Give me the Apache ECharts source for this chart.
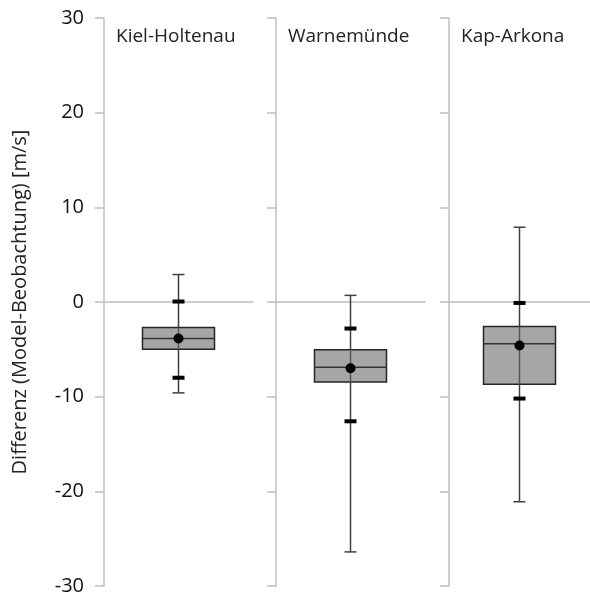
<!DOCTYPE html>
<html>
<head>
<meta charset="utf-8">
<script src="https://cdn.jsdelivr.net/npm/echarts@6/dist/echarts.min.js"></script>
<style>
  html, body { margin: 0; padding: 0; background: #fff; }
  #chart { width: 590px; height: 599px; }
</style>
</head>
<body>
<div id="chart"></div>
<script>
// stations and their statistics
const stations = ['Kiel-Holtenau', 'Warnemünde', 'Kap-Arkona']
const minVals = [-9.6, -26.4, -21.1]
const q1Vals = [-5.0, -8.45, -8.7]
const medianVals = [-3.85, -6.9, -4.4]
const q3Vals = [-2.7, -5.05, -2.6]
const maxVals = [2.9, 0.7, 7.9]
const meanVals = [-3.85, -7.0, -4.6]
const sdLowVals = [-8.0, -12.6, -10.2]
const sdHighVals = [0.05, -2.8, -0.1]
const yTicks = [-30, -20, -10, 0, 10, 20, 30]

const font = '"Open Sans", "DejaVu Sans", sans-serif'
const axisGray = '#bfbfbf'

const chart = echarts.init(document.getElementById('chart'))

const gridPos = [
  { left: 104, width: 149 },
  { left: 276, width: 149 },
  { left: 449, width: 141 }
]

const grids = gridPos.map(g => ({ left: g.left, width: g.width, top: 18, bottom: 13 }))

const xAxes = stations.map((s, i) => ({
  type: 'category',
  gridIndex: i,
  data: [s],
  axisLine: { onZero: true, lineStyle: { color: axisGray, width: 1.5 } },
  axisTick: { show: false },
  axisLabel: { show: false }
}))

const yAxes = stations.map((s, i) => ({
  type: 'value',
  gridIndex: i,
  min: yTicks[0],
  max: yTicks[yTicks.length - 1],
  interval: 10,
  name: i === 0 ? 'Differenz (Model-Beobachtung) [m/s]' : '',
  nameLocation: 'middle',
  nameGap: 74,
  nameTextStyle: { fontFamily: font, fontSize: 20, color: '#222' },
  axisLine: { show: true, lineStyle: { color: axisGray, width: 1.5 } },
  axisTick: { show: true, length: 9, lineStyle: { color: axisGray, width: 1.5 } },
  axisLabel: {
    show: i === 0,
    fontFamily: font,
    fontSize: 20,
    color: '#111',
    margin: 20
  },
  splitLine: { show: false }
}))

function renderBox(params, api) {
  const lo = api.coord([0, api.value(0)])
  const q1 = api.coord([0, api.value(1)])
  const med = api.coord([0, api.value(2)])
  const q3 = api.coord([0, api.value(3)])
  const hi = api.coord([0, api.value(4)])
  const mean = api.coord([0, api.value(5)])
  const sdl = api.coord([0, api.value(6)])
  const sdh = api.coord([0, api.value(7)])
  const x = lo[0]
  const halfBox = 36
  const cap = 6
  const dash = 6
  const lineStyle = { stroke: '#404040', lineWidth: 1.5 }
  return {
    type: 'group',
    children: [
      { type: 'line', shape: { x1: x, y1: hi[1], x2: x, y2: q3[1] }, style: lineStyle },
      { type: 'line', shape: { x1: x, y1: q1[1], x2: x, y2: lo[1] }, style: lineStyle },
      { type: 'line', shape: { x1: x - cap, y1: hi[1], x2: x + cap, y2: hi[1] }, style: lineStyle },
      { type: 'line', shape: { x1: x - cap, y1: lo[1], x2: x + cap, y2: lo[1] }, style: lineStyle },
      {
        type: 'rect',
        shape: { x: x - halfBox, y: q3[1], width: halfBox * 2, height: q1[1] - q3[1] },
        style: { fill: '#a6a6a6', stroke: '#262626', lineWidth: 1.5 }
      },
      { type: 'line', shape: { x1: x, y1: q3[1], x2: x, y2: q1[1] }, style: { stroke: '#555', lineWidth: 1.5 } },
      { type: 'line', shape: { x1: x - halfBox, y1: med[1], x2: x + halfBox, y2: med[1] }, style: { stroke: '#333', lineWidth: 1.5 } },
      { type: 'rect', shape: { x: x - dash, y: sdh[1] - 2, width: dash * 2, height: 4 }, style: { fill: '#000' } },
      { type: 'rect', shape: { x: x - dash, y: sdl[1] - 2, width: dash * 2, height: 4 }, style: { fill: '#000' } },
      { type: 'circle', shape: { cx: x, cy: mean[1], r: 5 }, style: { fill: '#000' } }
    ]
  }
}

const series = stations.map((s, i) => ({
  type: 'custom',
  xAxisIndex: i,
  yAxisIndex: i,
  renderItem: renderBox,
  data: [[minVals[i], q1Vals[i], medianVals[i], q3Vals[i], maxVals[i], meanVals[i], sdLowVals[i], sdHighVals[i]]],
  encode: { x: -1, y: [0, 1, 2, 3, 4] },
  z: 5
}))

const titles = stations.map((s, i) => ({
  text: s,
  left: gridPos[i].left + 7,
  top: 22,
  textStyle: { fontFamily: font, fontSize: 19, fontWeight: 'normal', color: '#222' }
}))

chart.setOption({
  backgroundColor: '#fff',
  animation: false,
  title: titles,
  grid: grids,
  xAxis: xAxes,
  yAxis: yAxes,
  series: series
})
</script>
</body>
</html>
